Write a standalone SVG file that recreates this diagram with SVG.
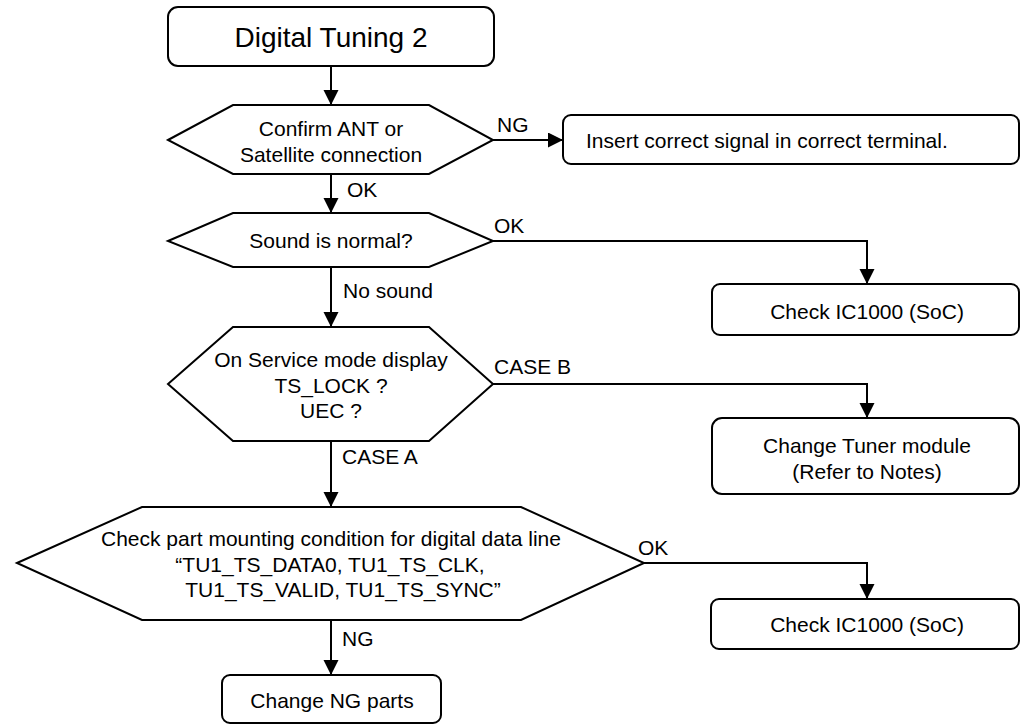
<svg xmlns="http://www.w3.org/2000/svg" width="1027" height="725" viewBox="0 0 1027 725">
<defs>
<marker id="arr" markerUnits="userSpaceOnUse" markerWidth="16" markerHeight="16" refX="15" refY="7.5" orient="auto">
<path d="M0,0 L15,7.5 L0,15 z" fill="#000"/>
</marker>
<style>
.box{fill:#fff;stroke:#000;stroke-width:2}
.hex{fill:#fff;stroke:#000;stroke-width:2;stroke-linejoin:miter}
.ln{fill:none;stroke:#000;stroke-width:2}
text{font-family:"Liberation Sans",Arial,sans-serif;font-size:21px;fill:#000}
.c{text-anchor:middle}
.title{font-size:28px}
</style>
</defs>
<rect width="1027" height="725" fill="#fff"/>
<g id="connectors">
<line class="ln" x1="331" y1="66" x2="331" y2="105" marker-end="url(#arr)"/>
<line class="ln" x1="493" y1="140" x2="563" y2="140" marker-end="url(#arr)"/>
<line class="ln" x1="331" y1="174" x2="331" y2="213" marker-end="url(#arr)"/>
<polyline class="ln" points="493,241 867,241 867,284" marker-end="url(#arr)"/>
<line class="ln" x1="331" y1="267" x2="331" y2="327" marker-end="url(#arr)"/>
<polyline class="ln" points="493,384 867,384 867,418" marker-end="url(#arr)"/>
<line class="ln" x1="331" y1="441" x2="331" y2="507" marker-end="url(#arr)"/>
<polyline class="ln" points="644,563 867,563 867,599" marker-end="url(#arr)"/>
<line class="ln" x1="331" y1="620" x2="331" y2="675" marker-end="url(#arr)"/>
<text x="497" y="132">NG</text>
<text x="347" y="197">OK</text>
<text x="494" y="233">OK</text>
<text x="343" y="298">No sound</text>
<text x="494" y="374">CASE B</text>
<text x="342" y="464">CASE A</text>
<text x="638" y="555">OK</text>
<text x="342" y="646">NG</text>
</g>
<g id="start">
<rect class="box" x="168" y="7" width="326" height="59" rx="10"/>
<text class="c title" x="331" y="47">Digital Tuning 2</text>
</g>
<g id="confirm">
<polygon class="hex" points="168,140 233,105 429,105 493,140 429,174 233,174"/>
<text class="c" x="331" y="136">Confirm ANT or</text>
<text class="c" x="331" y="162">Satellite connection</text>
</g>
<g id="insert">
<rect class="box" x="563" y="115" width="456" height="49" rx="8"/>
<text x="586" y="148">Insert correct signal in correct terminal.</text>
</g>
<g id="sound">
<polygon class="hex" points="168,241 233,213 429,213 493,241 429,267 233,267"/>
<text class="c" x="331" y="248">Sound is normal?</text>
</g>
<g id="check1">
<rect class="box" x="712" y="284" width="307" height="51" rx="8"/>
<text class="c" x="867" y="319">Check IC1000 (SoC)</text>
</g>
<g id="service">
<polygon class="hex" points="168,384 233,327 429,327 493,384 429,441 233,441"/>
<text class="c" x="331" y="367">On Service mode display</text>
<text class="c" x="331" y="393">TS_LOCK ?</text>
<text class="c" x="331" y="418">UEC ?</text>
</g>
<g id="tuner">
<rect class="box" x="712" y="418" width="307" height="76" rx="10"/>
<text class="c" x="867" y="453">Change Tuner module</text>
<text class="c" x="867" y="479">(Refer to Notes)</text>
</g>
<g id="mounting">
<polygon class="hex" points="17,563 142,507 521,507 644,563 521,620 142,620"/>
<text class="c" x="331" y="546">Check part mounting condition for digital data line</text>
<text class="c" x="330" y="572">“TU1_TS_DATA0, TU1_TS_CLK,</text>
<text class="c" x="343" y="597">TU1_TS_VALID, TU1_TS_SYNC”</text>
</g>
<g id="check2">
<rect class="box" x="711" y="599" width="308" height="50" rx="8"/>
<text class="c" x="867" y="632">Check IC1000 (SoC)</text>
</g>
<g id="ngparts">
<rect class="box" x="222" y="675" width="219" height="48" rx="8"/>
<text class="c" x="332" y="708">Change NG parts</text>
</g>
</svg>
